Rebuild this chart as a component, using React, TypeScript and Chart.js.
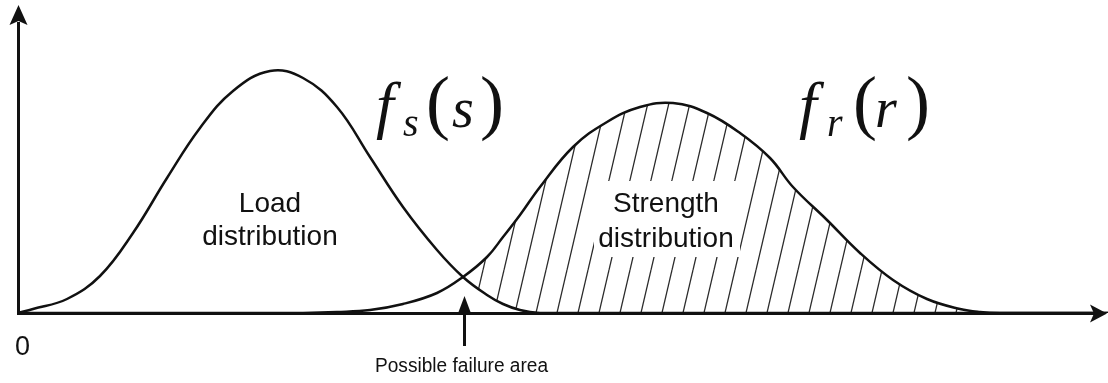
import React, { useEffect, useRef } from "react";
import { Chart, registerables } from "chart.js";

Chart.register(...registerables);

// x positions along the horizontal axis (arbitrary units, 0 = origin)
const xValues = [
  0, 15, 49, 82, 115, 149, 182, 215, 252, 285, 319, 352, 385, 419, 445, 469,
  485, 502, 522, 555, 589, 622, 655, 689, 722, 752, 775, 809, 842, 875, 909,
  942, 962, 982, 1090,
];
// load distribution f_s(s)
const loadValues = [
  0, 4, 14, 37, 80, 135, 185, 222, 242, 235, 206, 156, 106, 63, 36, 18, 9,
  3, 0, 0, 0, 0, 0, 0, 0, 0, 0, 0, 0, 0, 0, 0, 0, 0, 0,
];
// strength distribution f_r(r)
const strengthValues = [
  0, 0, 0, 0, 0, 0, 0, 0, 0, 0, 1, 3, 9, 20, 36, 56, 76, 98, 126, 166, 191,
  206, 210, 200, 180, 155, 126, 93, 60, 33, 14, 4, 1, 0, 0,
];

const X_MAX = 1090;
const Y_MAX = 308;
const FAILURE_X = 446;

function makeHatch(): CanvasPattern | string {
  const w = 21;
  const h = 90;
  const c = document.createElement("canvas");
  c.width = w;
  c.height = h;
  const g = c.getContext("2d");
  if (!g) return "rgba(0,0,0,0.2)";
  g.strokeStyle = "#2a2a2a";
  g.lineWidth = 1.3;
  for (const off of [-w, 0, w]) {
    g.beginPath();
    g.moveTo(off, h);
    g.lineTo(off + w, 0);
    g.stroke();
  }
  const p = g.createPattern(c, "repeat");
  return p || "rgba(0,0,0,0.2)";
}

const overlayPlugin = {
  id: "overlay",
  afterDatasetsDraw(chart: any) {
    const ctx: CanvasRenderingContext2D = chart.ctx;
    const xs = chart.scales.x;
    const ys = chart.scales.y;
    const X = (v: number) => xs.getPixelForValue(v);
    const Y = (v: number) => ys.getPixelForValue(v);
    ctx.save();

    // white box behind strength label
    ctx.fillStyle = "#ffffff";
    ctx.fillRect(X(576), Y(132), X(722) - X(576), Y(56) - Y(132));

    // distribution labels
    ctx.fillStyle = "#111";
    ctx.font = '28px "Liberation Sans", Arial, sans-serif';
    ctx.textAlign = "center";
    ctx.textBaseline = "alphabetic";
    ctx.fillText("Load", X(252), Y(101));
    ctx.fillText("distribution", X(252), Y(68));
    ctx.fillText("Strength", X(648), Y(101));
    ctx.fillText("distribution", X(648), Y(66));

    // axes
    const ox = X(0) + 0.5;
    const oy = Y(0) + 0.5;
    ctx.strokeStyle = "#111";
    ctx.fillStyle = "#111";
    ctx.lineWidth = 3;
    ctx.beginPath();
    ctx.moveTo(ox, oy + 1.5);
    ctx.lineTo(ox, 22);
    ctx.stroke();
    ctx.beginPath();
    ctx.moveTo(ox - 1.5, oy);
    ctx.lineTo(1094, oy);
    ctx.stroke();
    // arrowheads
    ctx.beginPath();
    ctx.moveTo(ox, 5);
    ctx.lineTo(ox - 9, 25);
    ctx.lineTo(ox, 21);
    ctx.lineTo(ox + 9, 25);
    ctx.closePath();
    ctx.fill();
    ctx.beginPath();
    ctx.moveTo(1107, oy);
    ctx.lineTo(1090, oy - 9);
    ctx.lineTo(1094, oy);
    ctx.lineTo(1090, oy + 9);
    ctx.closePath();
    ctx.fill();

    // failure arrow
    const fx = X(FAILURE_X) + 0.5;
    ctx.lineWidth = 3;
    ctx.beginPath();
    ctx.moveTo(fx, 346);
    ctx.lineTo(fx, 306);
    ctx.stroke();
    ctx.beginPath();
    ctx.moveTo(fx, 296);
    ctx.lineTo(fx - 6, 312);
    ctx.lineTo(fx + 6, 312);
    ctx.closePath();
    ctx.fill();

    // origin and failure labels
    ctx.textAlign = "left";
    ctx.font = '27px "Liberation Sans", Arial, sans-serif';
    ctx.fillText("0", 15, 355);
    ctx.font = '20px "Liberation Sans", Arial, sans-serif';
    ctx.save();
    ctx.translate(375, 372);
    ctx.scale(0.955, 1);
    ctx.fillText("Possible failure area", 0, 0);
    ctx.restore();

    // math labels
    const drawMath = (fx0: number, sub: string, arg: string, xs2: number[]) => {
      ctx.textAlign = "left";
      ctx.font = 'italic 64px "Liberation Serif", "Times New Roman", serif';
      ctx.fillText("f", fx0, 126);
      ctx.font = 'italic 40px "Liberation Serif", "Times New Roman", serif';
      ctx.fillText(sub, xs2[0], 136);
      ctx.font = '72px "Liberation Serif", "Times New Roman", serif';
      ctx.fillText("(", xs2[1], 126);
      ctx.font = 'italic 56px "Liberation Serif", "Times New Roman", serif';
      ctx.fillText(arg, xs2[2], 127);
      ctx.font = '72px "Liberation Serif", "Times New Roman", serif';
      ctx.fillText(")", xs2[3], 126);
    };
    drawMath(376, "s", "s", [403, 426, 452, 480]);
    drawMath(799, "r", "r", [827, 853, 875, 906]);

    ctx.restore();
  },
};

export default function App() {
  const ref = useRef<HTMLCanvasElement | null>(null);
  useEffect(() => {
    if (!ref.current) return;
    const hatch = makeHatch();
    const loadData = xValues.map((x, i) => ({ x, y: loadValues[i] }));
    const strengthData = xValues.map((x, i) => ({ x, y: strengthValues[i] }));
    const chart = new Chart(ref.current, {
      type: "line",
      data: {
        datasets: [
          {
            label: "Load distribution",
            data: loadData,
            borderColor: "#111",
            borderWidth: 2.5,
            pointRadius: 0,
            tension: 0.4,
            fill: false,
          },
          {
            label: "Strength distribution",
            data: strengthData,
            borderColor: "#111",
            borderWidth: 2.5,
            pointRadius: 0,
            tension: 0.4,
            fill: { target: 0, above: hatch as any, below: "rgba(0,0,0,0)" },
          },
        ],
      },
      options: {
        responsive: false,
        animation: false,
        events: [],
        layout: { padding: { left: 18, right: 0, top: 5, bottom: 70 } },
        scales: {
          x: { type: "linear", min: 0, max: X_MAX, display: false },
          y: { type: "linear", min: 0, max: Y_MAX, display: false },
        },
        plugins: {
          legend: { display: false },
          tooltip: { enabled: false },
          filler: { propagate: false },
        },
      },
      plugins: [overlayPlugin],
    });
    return () => chart.destroy();
  }, []);
  return (
    <div style={{ position: "absolute", left: 0, top: 0, width: 1108, height: 383, background: "#fff" }}>
      <canvas ref={ref} width={1108} height={383} style={{ display: "block" }} />
    </div>
  );
}
